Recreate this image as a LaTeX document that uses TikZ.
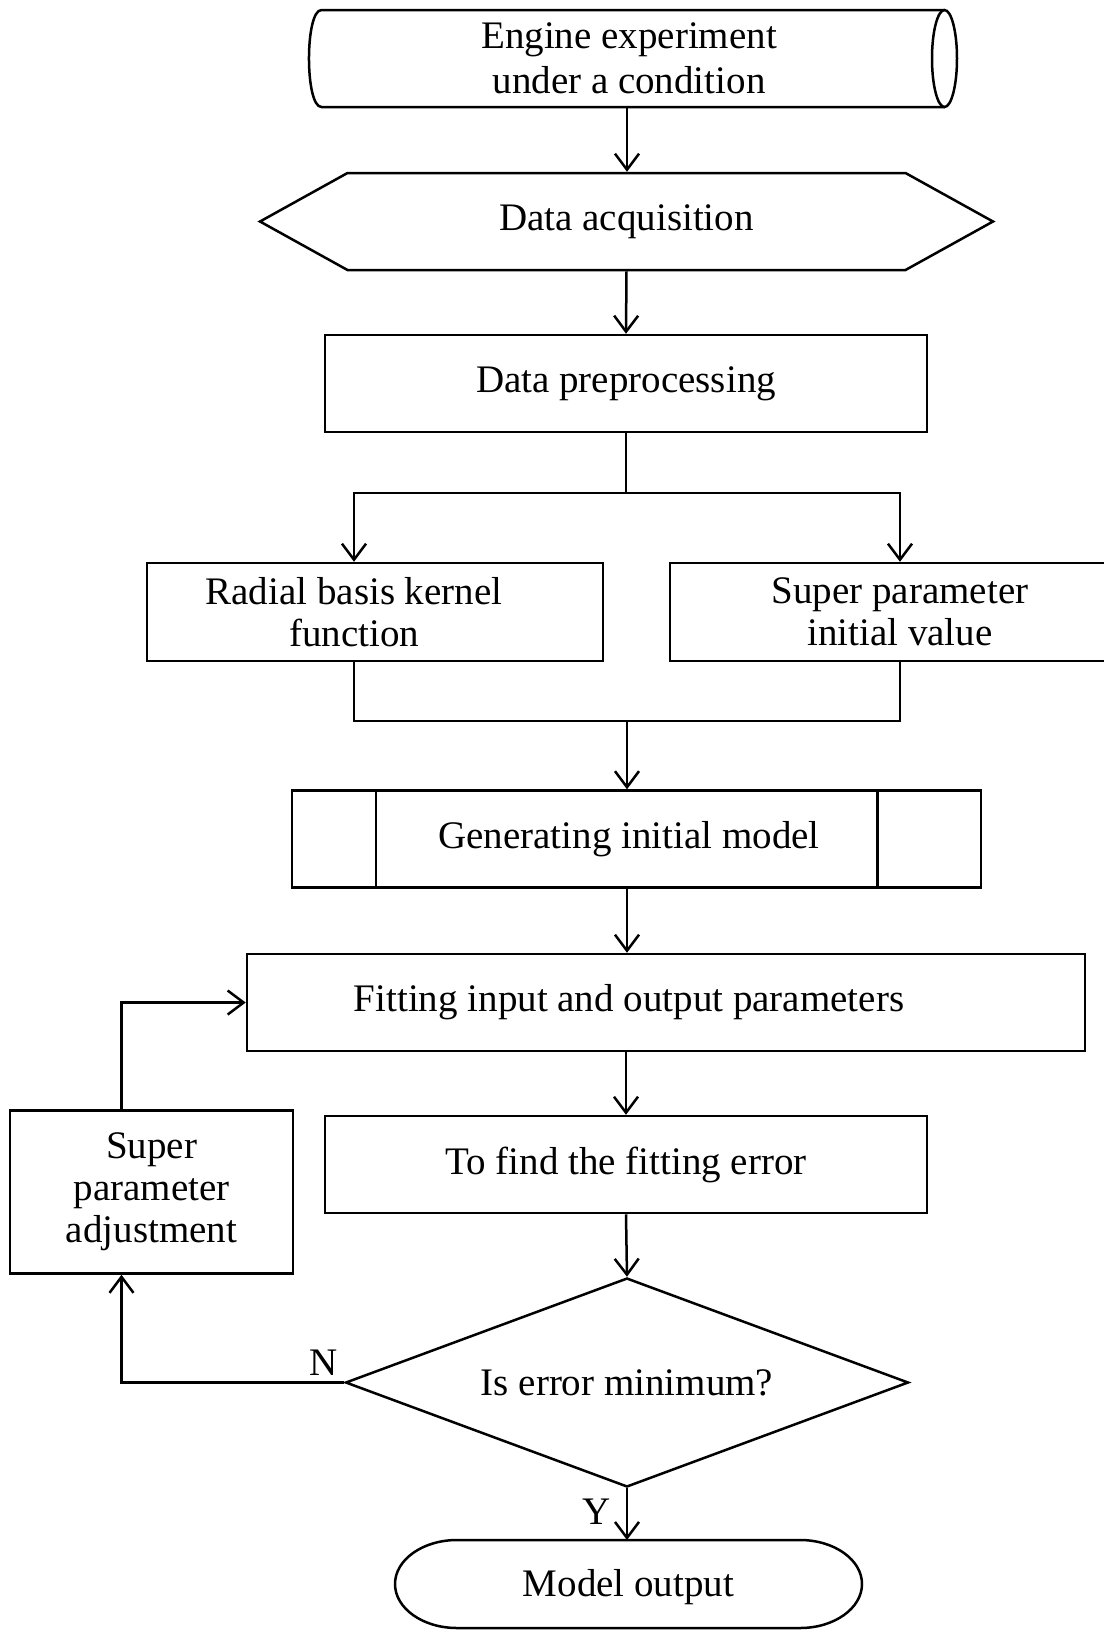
\documentclass[tikz,border=0pt]{standalone}
\usepackage{fontspec}
\setmainfont{Liberation Serif}
\usepackage{tikz}
\usetikzlibrary{
	arrows.meta,
	calc,
	positioning,
	shapes.geometric,
	shapes.symbols
}
\newcommand{\flowfont}{\fontsize{19.5pt}{21pt}\selectfont}
\tikzset{
	box/.style={draw, line width=1.25pt, rectangle, align=center, font=\flowfont, inner sep=0pt, minimum height=48.5pt},
	txt/.style={align=center, font=\flowfont, inner sep=0pt},
	arr/.style={line width=1.25pt, -{Straight Barb[length=8pt, width=12pt]}},
	lin/.style={line width=1.25pt}
}

\begin{document}
\begin{tikzpicture}[x=0.5pt, y=-0.5pt]
	\useasboundingbox (0,0) rectangle (1104,1630);
	
	% 实验（圆柱）
	\node[txt, font=\fontsize{19.5pt}{22.5pt}\selectfont] (exp) at (629,58.5) {Engine experiment\\under a condition};
	\draw[lin] (944.5,10) -- (321.5,10) .. controls (304.8,10) and (304.8,107) .. (321.5,107) -- (944.5,107);
	\draw[lin] (944.5,58.5) ellipse [x radius=12.5, y radius=48.5];
	\coordinate (expbot) at (627,107);
	
	% 采集与预处理
	\node[box, signal, signal to=east and west, signal pointer angle=58, minimum width=366.5pt] (acq) at (626.5,221.5) {Data acquisition};
	\node[box, minimum width=301pt] (prep) at (626,383.5) {Data preprocessing};
	
	% 两个分支
	\node[box, minimum width=228pt, minimum height=49pt] (radial) at (375,612) {};
	\node[txt] (radtxt) at (354,612) {Radial basis kernel\\function};
	\node[box, minimum width=230pt, minimum height=49pt] (init) at (900,612) {Super parameter\\initial value};
	\coordinate (split) at (626,493);
	\coordinate (join) at (627,721);
	
	% 模型
	\node[box, minimum width=344.5pt] (gen) at (636.5,839) {};
	\node[txt] (gentxt) at (629,839) {Generating initial model};
	\draw[lin] ([xshift=42.5pt]gen.north west) -- ([xshift=42.5pt]gen.south west);
	\draw[lin] ([xshift=-52.5pt]gen.north east) -- ([xshift=-52.5pt]gen.south east);
	\node[box, minimum width=419pt] (fit) at (666,1002.5) {};
	\node[txt] (fittxt) at (629,1002.5) {Fitting input and output parameters};
	\node[box, minimum width=301pt] (err) at (626,1164.5) {To find the fitting error};
	\node[box, minimum width=141.5pt, minimum height=81.5pt] (adj) at (151.5,1192) {Super\\parameter\\adjustment};
	\node[box, diamond, aspect=2.7, minimum width=281.5pt, minimum height=104.5pt] (dec) at (627,1382.5) {Is error minimum?};
	
	% 输出（椭圆端）
	\node[txt] (out) at (628.5,1587) {Model output};
	\draw[lin] (800,1540) -- (457,1540) arc[start angle=270, end angle=90, x radius=62, y radius=44]
		-- (800,1628) arc[start angle=90, end angle=-90, x radius=62, y radius=44] -- cycle;
	\coordinate (outtop) at (627,1540);
	
	% 连线
	\draw[arr] (expbot) -- (expbot |- acq.north);
	\draw[arr] (acq.south) -- (prep.north);
	\draw[lin] (prep.south) -- (split);
	\draw[arr] (split) -| (radtxt |- radial.north);
	\draw[arr] (split) -| (init.north);
	\draw[lin] (radtxt |- radial.south) |- (join);
	\draw[lin] (init.south) |- (join);
	\draw[arr] (join) -- (join |- gen.north);
	\draw[arr] (gen.south -| join) -- (fit.north -| join);
	\draw[arr] (fit.south -| err.north) -- (err.north);
	\draw[arr] (err.south) -- (dec.north);
	\draw[arr] (dec.south) -- (outtop) node[pos=0.45, left, font=\flowfont, xshift=-4pt] (yes) {Y};
	
	% 回路
	\draw[arr] (dec.west) -| ([xshift=-15pt]adj.south);
	\node[font=\flowfont, above left=0pt and 0pt of dec.west] (no) {N};
	\draw[arr] ([xshift=-15pt]adj.north) |- (fit.west);
\end{tikzpicture}
\end{document}
